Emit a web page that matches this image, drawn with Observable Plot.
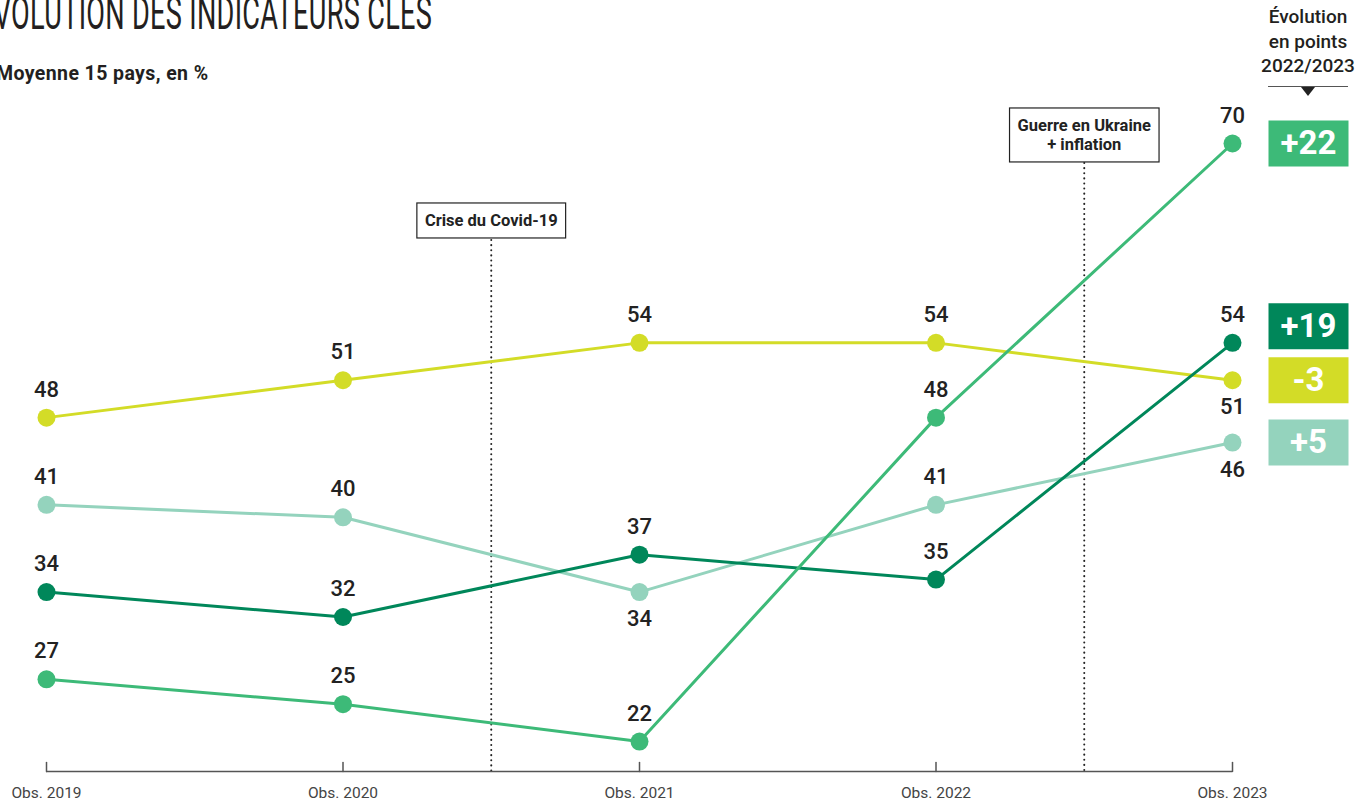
<!DOCTYPE html>
<html>
<head>
<meta charset="utf-8">
<script src="https://cdn.jsdelivr.net/npm/d3@7"></script>
<script src="https://cdn.jsdelivr.net/npm/@observablehq/plot@0.6"></script>
<style>
  html, body { margin: 0; padding: 0; background: #fff; overflow: hidden; }
  body { width: 1372px; height: 805px; position: relative; font-family: Roboto, "Noto Sans", sans-serif; color: #222; }
  #header { position: relative; height: 100px; width: 1372px; }
  #title { position: absolute; left: -22px; top: -14px; font-family: Roboto, sans-serif; font-weight: 400; font-size: 46px; letter-spacing: 0.5px; white-space: nowrap; transform: scaleX(0.59); transform-origin: left top; color: #231f20; }
  #subtitle { position: absolute; left: -4px; top: 62px; font-family: Roboto, sans-serif; font-weight: 700; font-size: 19.5px; letter-spacing: 0.4px; white-space: nowrap; color: #231f20; }
  #legendhead { position: absolute; left: 1248px; width: 120px; top: 5px; text-align: center; font-family: Roboto, sans-serif; font-weight: 500; font-size: 19px; line-height: 24.5px; color: #231f20; }
  #legendline { position: absolute; left: 1268px; width: 80px; top: 86px; height: 0; border-top: 1.5px solid #555; }
  #legendtri { position: absolute; left: 1301px; top: 87px; width: 0; height: 0; border-left: 7px solid transparent; border-right: 7px solid transparent; border-top: 9px solid #222; }
  #chart svg { display: block; overflow: visible; }
</style>
</head>
<body>
<div id="header">
  <div id="title">ÉVOLUTION DES INDICATEURS CLÉS</div>
  <div id="subtitle">Moyenne 15 pays, en %</div>
  <div id="legendhead">Évolution<br>en points<br>2022/2023</div>
  <div id="legendline"></div>
  <div id="legendtri"></div>
</div>
<div id="chart"></div>
<script>
// ---- Data ----
const years = [2019, 2020, 2021, 2022, 2023];
const tickLabels = ["Obs. 2019", "Obs. 2020", "Obs. 2021", "Obs. 2022", "Obs. 2023"];

const seriesNames = ["jaune", "clair", "fonce", "moyen"];
const seriesColors = ["#d3dc27", "#94d3bd", "#00875a", "#3dba78"];
const valuesJaune = [48, 51, 54, 54, 51];
const valuesClair = [41, 40, 34, 41, 46];
const valuesFonce = [34, 32, 37, 35, 54];
const valuesMoyen = [27, 25, 22, 48, 70];
// label placement: 1 = above the point, -1 = below
const placeJaune = [1, 1, 1, 1, -1];
const placeClair = [1, 1, -1, 1, -1];
const placeFonce = [1, 1, 1, 1, 1];
const placeMoyen = [1, 1, 1, 1, 1];

const eventX = [2020.5, 2022.5];
const eventLabels = ["Crise du Covid-19", "Guerre en Ukraine\n+ inflation"];

// ---- Build table ----
const allValues = [valuesJaune, valuesClair, valuesFonce, valuesMoyen];
const allPlace = [placeJaune, placeClair, placeFonce, placeMoyen];
const rows = [];
seriesNames.forEach((s, i) => {
  years.forEach((yr, j) => {
    rows.push({series: s, year: yr, value: allValues[i][j], place: allPlace[i][j]});
  });
});

const W = 1372, H = 705;
const marginTop = 43, marginBottom = 34, marginLeft = 46, marginRight = 140;
const yDomain = [19.6, 70];
const yScale = d3.scaleLinear(yDomain, [H - marginBottom, marginTop]);

// Badges: change 2022 -> 2023, dodged vertically in pixel space
const badgeH = 46, badgeW = 80, badgeGap = 8;
const badges = seriesNames.map((s, i) => {
  const v = allValues[i];
  return {series: s, diff: v[4] - v[3], value: v[4], py: yScale(v[4])};
});
const sortedB = [...badges].sort((a, b) => b.py - a.py);
for (let k = 1; k < sortedB.length; k++) {
  const lim = sortedB[k - 1].py - (badgeH + badgeGap);
  if (sortedB[k].py > lim) sortedB[k].py = lim;
}
badges.forEach(b => { b.y = yScale.invert(b.py); b.text = (b.diff > 0 ? "+" : "") + b.diff; });

const rectSymbol = {
  draw(context) {
    context.rect(-badgeW / 2, -badgeH / 2, badgeW, badgeH);
  }
};

const colorScale = {domain: seriesNames, range: seriesColors};
const font = "Roboto, 'Noto Sans', sans-serif";

const marks = [
  // event dotted rules
  Plot.ruleX([eventX[0]], {x: d => d, stroke: "#222", strokeWidth: 2, strokeDasharray: "0.1,5", strokeLinecap: "round", insetTop: 97}),
  Plot.ruleX([eventX[1]], {x: d => d, stroke: "#222", strokeWidth: 2, strokeDasharray: "0.1,5", strokeLinecap: "round", insetTop: 20}),
  // axis line
  Plot.ruleY([yDomain[0]], {stroke: "#555", strokeWidth: 1.5}),
  // ticks (upward)
  Plot.vector(years, {x: d => d, y: () => yDomain[0], length: 9, anchor: "start", rotate: 0, stroke: "#555", strokeWidth: 1.5,
    shape: {draw(ctx, l) { ctx.moveTo(0, 0); ctx.lineTo(0, -l); }}}),
  Plot.axisX(years, {tickSize: 0, tickPadding: 15, label: null, tickFormat: (d, i) => tickLabels[i], fontSize: 15.5, fill: "#444", fontFamily: font}),
  // lines
  Plot.line(rows, {x: "year", y: "value", z: "series", stroke: "series", strokeWidth: 3}),
  Plot.dot(rows, {x: "year", y: "value", fill: "series", r: 9}),
  // value labels
  Plot.text(rows, {x: "year", y: "value", text: d => String(d.value), filter: d => d.place > 0, dy: -28, fontSize: 22, fontWeight: 500, fill: "#222", fontFamily: font}),
  Plot.text(rows, {x: "year", y: "value", text: d => String(d.value), filter: d => d.place < 0, dy: 27, fontSize: 22, fontWeight: 500, fill: "#222", fontFamily: font}),
  // badges
  Plot.dot(badges, {x: () => years[4], y: "y", dx: 76, symbol: rectSymbol, fill: "series", r: 10}),
  Plot.text(badges, {x: () => years[4], y: "y", dx: 76, text: "text", fill: "#fff", fontSize: 33, fontWeight: 700, fontFamily: font}),
  // event labels
  Plot.text([0], {x: () => eventX[0], frameAnchor: "top", dy: 69, text: () => eventLabels[0], className: "evt", fontSize: 16.5, fontWeight: 700, fill: "#222", fontFamily: font, lineHeight: 1.15}),
  Plot.text([0], {x: () => eventX[1], frameAnchor: "top", dy: -26, text: () => eventLabels[1], className: "evt", fontSize: 16.5, fontWeight: 700, fill: "#222", fontFamily: font, lineHeight: 1.15})
];

const chart = Plot.plot({
  width: W, height: H,
  marginTop, marginBottom, marginLeft, marginRight,
  x: {type: "linear", domain: [years[0], years[4]], axis: null},
  y: {domain: yDomain, axis: null},
  color: colorScale,
  style: {fontFamily: font, background: "transparent", overflow: "visible"},
  marks
});
document.getElementById("chart").appendChild(chart);

// boxes behind event labels
d3.select(chart).selectAll("g.evt text").each(function() {
  const bb = this.getBBox();
  const padX = 8, padY = 8;
  d3.select(this.parentNode).insert("rect", () => this)
    .attr("x", bb.x - padX).attr("y", bb.y - padY)
    .attr("width", bb.width + 2 * padX).attr("height", bb.height + 2 * padY)
    .attr("fill", "#fff").attr("stroke", "#222").attr("stroke-width", 1.2)
    .attr("transform", this.getAttribute("transform"));
});
</script>
</body>
</html>
